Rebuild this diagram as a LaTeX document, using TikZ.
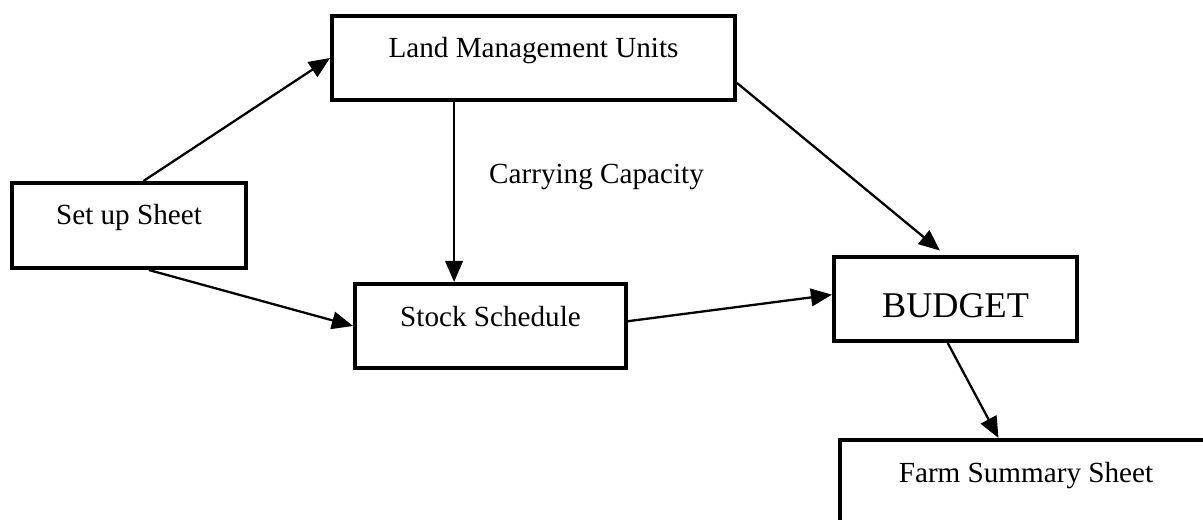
\documentclass[tikz,border=0pt]{standalone}
\usepackage{fontspec}
\setmainfont{Liberation Serif}
\usepackage{tikz}
\usetikzlibrary{arrows.meta}
\usetikzlibrary{positioning}
\tikzstyle{sheet}=[rectangle,draw=black,line width=2.3pt,inner sep=0mm,text height=0.84cm,text depth=0.84cm,font=\fontsize{16.6}{19}\selectfont]
\tikzstyle{budgetbox}=[sheet,text height=1.22cm,text depth=0.46cm,font=\fontsize{20.6}{24}\selectfont]
\tikzstyle{arrow}=[-{Triangle[length=12pt,width=10pt]},line width=1.3pt]

\begin{document}
\begin{tikzpicture}[x=0.02cm,y=-0.02cm]
        \clip (0,0) rectangle (1203,520);
        \fill[white] (0,0) rectangle (1203,520);
        \node[sheet,minimum width=8.06cm] at (533.5,58) (lmu) {Land Management Units};
        \node[sheet,minimum width=4.68cm,text depth=0.86cm] at (129,225.5) (setup) {Set up Sheet};
        \node[sheet,minimum width=5.42cm] at (490.5,326) (stock) {Stock Schedule};
        \node[budgetbox,minimum width=4.86cm] at (955.5,299) (budget) {BUDGET};
        \node[sheet,minimum width=7.44cm] at (1026,482) (farm) {Farm Summary Sheet};
        \node[anchor=base west,font=\fontsize{16.6}{19}\selectfont] at (483,184) (cap) {Carrying Capacity};
        \draw[arrow] (setup.72) -- (lmu.west);
        \draw[arrow] (setup.-66) -- (stock.west);
        \draw[arrow] (lmu.209) -- (lmu.209 |- stock.north);
        \draw[arrow,shorten >=4pt] (lmu.-7.6) -- (budget.103);
        \draw[arrow] (stock.2.5) -- (budget.178);
        \draw[arrow] (budget.260) -- (farm.122);
      \end{tikzpicture}
\end{document}
